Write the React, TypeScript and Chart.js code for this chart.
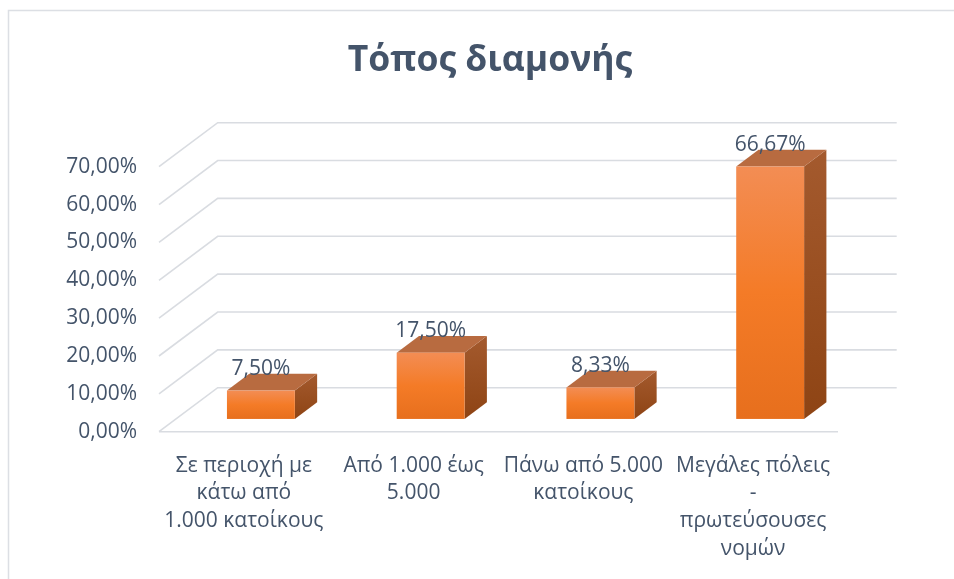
import React, { useEffect, useRef } from "react";
import { Chart, registerables } from "chart.js";

Chart.register(...registerables);

const title = "Τόπος διαμονής";
const categories: string[][] = [
  ["Σε περιοχή με", "κάτω από", "1.000 κατοίκους"],
  ["Από 1.000 έως", "5.000"],
  ["Πάνω από 5.000", "κατοίκους"],
  ["Μεγάλες πόλεις", "-", "πρωτεύσουσες", "νομών"],
];
const values: number[] = [7.5, 17.5, 8.33, 66.67];
const yMin = 0;
const yMax = 70;
const yStep = 10;

const W = 954;
const H = 579;
const TEXT = "#44546A";
const FONT = "'Open Sans', 'Noto Sans', sans-serif";
const DX = 58.7;
const DY = -44;
const BAR_FRONT = 0.29;
const BAR_DEPTH = 0.38;
const TITLE_SIZE = 35.5;

const fmt = (v: number) => v.toFixed(2).replace(".", ",") + "%";

const threeD = {
  id: "threeD",
  beforeDraw(chart: any) {
    const { ctx } = chart;
    ctx.save();
    ctx.fillStyle = "#ffffff";
    ctx.fillRect(0, 0, W, H);
    ctx.strokeStyle = "#dcdfe4";
    ctx.lineWidth = 1.5;
    ctx.strokeRect(8.5, 10.5, W + 20, H + 20);
    ctx.restore();
  },
  beforeDatasetsDraw(chart: any) {
    const { ctx, chartArea } = chart;
    const ys = chart.scales.y;
    ctx.save();
    ctx.strokeStyle = "#d9dce1";
    ctx.lineWidth = 1.6;
    ys.ticks.forEach((t: any) => {
      const yf = ys.getPixelForValue(t.value);
      ctx.beginPath();
      ctx.moveTo(chartArea.left, yf);
      ctx.lineTo(chartArea.left + DX, yf + DY);
      ctx.lineTo(chartArea.right + DX, yf + DY);
      if (t.value === yMin) {
        ctx.moveTo(chartArea.left, yf);
        ctx.lineTo(chartArea.right, yf);
      }
      ctx.stroke();
    });
    ctx.restore();
  },
  afterDatasetsDraw(chart: any) {
    const { ctx } = chart;
    const meta = chart.getDatasetMeta(0);
    const fx = DX * BAR_FRONT;
    const fy = DY * BAR_FRONT;
    const bx = DX * BAR_DEPTH;
    const by = DY * BAR_DEPTH;
    ctx.save();
    meta.data.forEach((el: any, i: number) => {
      const p = el.getProps(["x", "y", "base", "width"], true);
      const L = p.x - p.width / 2 + fx;
      const R = p.x + p.width / 2 + fx;
      const T = p.y + fy;
      const B = p.base + fy;
      const sg = ctx.createLinearGradient(0, T + by, 0, B);
      sg.addColorStop(0, "#a45a2e");
      sg.addColorStop(1, "#8e4414");
      ctx.fillStyle = sg;
      ctx.beginPath();
      ctx.moveTo(R, T);
      ctx.lineTo(R + bx, T + by);
      ctx.lineTo(R + bx, B + by);
      ctx.lineTo(R, B);
      ctx.closePath();
      ctx.fill();
      ctx.fillStyle = "#b86b40";
      ctx.beginPath();
      ctx.moveTo(L, T);
      ctx.lineTo(R, T);
      ctx.lineTo(R + bx, T + by);
      ctx.lineTo(L + bx, T + by);
      ctx.closePath();
      ctx.fill();
      const fg = ctx.createLinearGradient(0, T, 0, B);
      fg.addColorStop(0, "#f38d54");
      fg.addColorStop(0.5, "#f47b27");
      fg.addColorStop(1, "#e76f1d");
      ctx.fillStyle = fg;
      ctx.fillRect(L, T, R - L, B - T);
      ctx.fillStyle = TEXT;
      ctx.font = `21px ${FONT}`;
      ctx.textAlign = "center";
      ctx.textBaseline = "alphabetic";
      ctx.fillText(fmt(values[i]), p.x + fx, T + by + 1);
    });
    ctx.restore();
  },
};

export default function App() {
  const ref = useRef<HTMLCanvasElement | null>(null);
  useEffect(() => {
    if (!ref.current) return;
    const chart = new Chart(ref.current, {
      type: "bar",
      data: {
        labels: categories as any,
        datasets: [
          {
            data: values,
            backgroundColor: "rgba(0,0,0,0)",
            borderWidth: 0,
            categoryPercentage: 1,
            barPercentage: 0.4,
          },
        ],
      },
      options: {
        responsive: false,
        animation: false,
        events: [],
        layout: { padding: { left: 26, right: 0, top: 0, bottom: 0 } },
        plugins: {
          legend: { display: false },
          tooltip: { enabled: false },
          title: {
            display: true,
            text: title,
            color: TEXT,
            font: { family: FONT, size: TITLE_SIZE, weight: "bold", lineHeight: 1.2 },
            padding: { top: 40, bottom: 166.7 - 40 - TITLE_SIZE * 1.2 },
          },
        },
        scales: {
          x: {
            grid: { display: false, drawTicks: false },
            border: { display: false },
            afterFit: (s: any) => {
              s.height = H - 431.7;
            },
            ticks: {
              autoSkip: false,
              maxRotation: 0,
              minRotation: 0,
              padding: 20,
              color: TEXT,
              font: { family: FONT, size: 21, lineHeight: 1.32 },
            },
          },
          y: {
            min: yMin,
            max: yMax,
            grid: { display: false, drawTicks: false },
            border: { display: false },
            afterFit: (s: any) => {
              s.width = 133;
            },
            ticks: {
              stepSize: yStep,
              padding: 22,
              color: TEXT,
              font: { family: FONT, size: 21 },
              callback: (v: any) => fmt(Number(v)),
            },
          },
          yRight: {
            position: "right",
            grid: { display: false, drawTicks: false },
            border: { display: false },
            ticks: { display: false },
            afterFit: (s: any) => {
              s.width = W - 838;
            },
          },
        },
      },
      plugins: [threeD],
    });
    return () => chart.destroy();
  }, []);
  return (
    <div style={{ position: "fixed", left: 0, top: 0, width: W, height: H, background: "#fff" }}>
      <canvas ref={ref} width={W} height={H} style={{ display: "block" }} />
    </div>
  );
}
